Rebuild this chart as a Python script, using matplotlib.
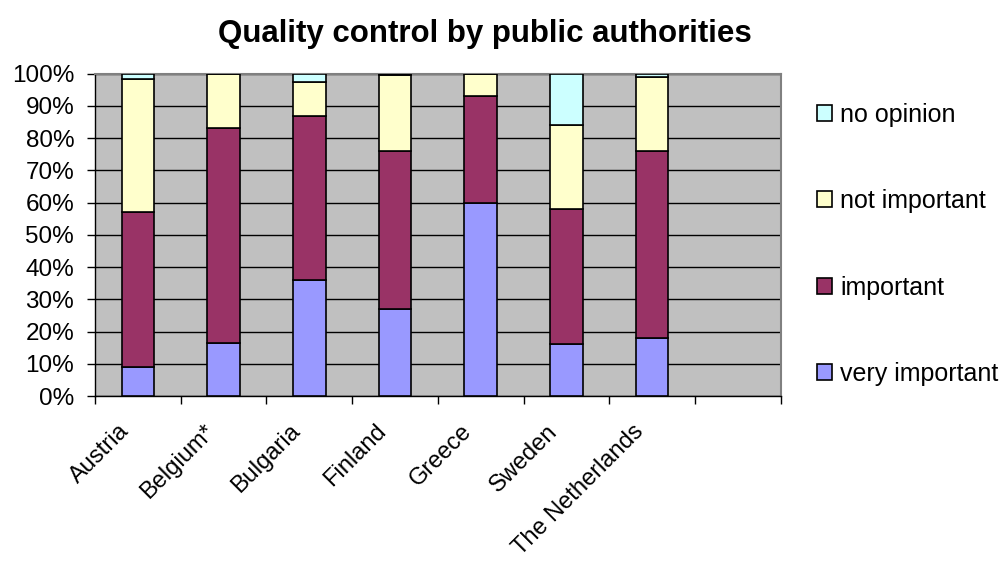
import matplotlib
matplotlib.use("Agg")
import matplotlib.pyplot as plt
import matplotlib.transforms as mtransforms
import numpy as np

countries = ["Austria", "Belgium*", "Bulgaria", "Finland", "Greece", "Sweden", "The Netherlands"]
very_important = [9, 16.5, 36, 27, 60, 16, 18]
important = [48, 66.5, 51, 49, 33, 42, 58]
not_important = [41.5, 17, 10.5, 23.5, 7, 26, 23]
no_opinion = [1.5, 0, 2.5, 0.5, 0, 16, 1]

series_names = ["very important", "important", "not important", "no opinion"]
series_colors = ["#9999FF", "#993366", "#FFFFCC", "#CCFFFF"]
y_ticks = list(range(0, 101, 10))
n_slots = 8

plt.rcParams["font.family"] = ["Liberation Sans", "DejaVu Sans"]

fig = plt.figure(figsize=(10.02, 5.63), dpi=100)
ax = fig.add_axes([0.0948, 0.2966, 0.6843, 0.5725])
ax.set_facecolor("#C0C0C0")

x = np.arange(len(countries))
bottom = np.zeros(len(countries))
handles = []
for vals, name, col in zip([very_important, important, not_important, no_opinion],
                           series_names, series_colors):
    vals = np.array(vals, dtype=float)
    b = ax.bar(x, vals, width=0.38, bottom=bottom, color=col, edgecolor="black",
               linewidth=1.2, label=name, zorder=3)
    handles.append(b)
    bottom += vals

ax.set_xlim(-0.5, n_slots - 0.5)
ax.set_ylim(0, 100)
ax.set_yticks(y_ticks)
ax.set_yticklabels([f"{v}%" for v in y_ticks], fontsize=17.5)
ax.yaxis.grid(True, color="black", linewidth=1.0, zorder=1)
ax.set_axisbelow(True)

# category names: rotated, right end placed just below-left of each slot centre
ax.set_xticks(x)
ax.set_xticklabels([])
label_offset = mtransforms.ScaledTranslation(-0.12, -0.32, fig.dpi_scale_trans)
for xi, name in zip(x, countries):
    ax.text(xi, 0, name, transform=ax.get_xaxis_transform() + label_offset,
            fontsize=17, rotation=45, ha="right", va="center",
            rotation_mode="anchor", clip_on=False)
ax.set_xticks(np.arange(-0.5, n_slots, 1.0), minor=True)
ax.tick_params(axis="x", which="major", length=0)
ax.tick_params(axis="x", which="minor", length=6, width=1, direction="out", color="black")
ax.tick_params(axis="y", length=6, width=1, direction="out", pad=9)

for side in ["top", "right"]:
    ax.spines[side].set_color("#808080")
    ax.spines[side].set_linewidth(1.5)
for side in ["left", "bottom"]:
    ax.spines[side].set_color("black")
    ax.spines[side].set_linewidth(1.0)

fig.text(0.4835, 0.94, "Quality control by public authorities", fontsize=22.5,
         fontweight="bold", ha="center", va="center")

leg = fig.legend(handles[::-1], series_names[::-1], loc="center left",
                 bbox_to_anchor=(0.805, 0.566), frameon=False, fontsize=18,
                 handlelength=0.6, handleheight=0.6, handletextpad=0.35,
                 labelspacing=2.5, borderaxespad=0)

fig.savefig("out.png", dpi=100)
